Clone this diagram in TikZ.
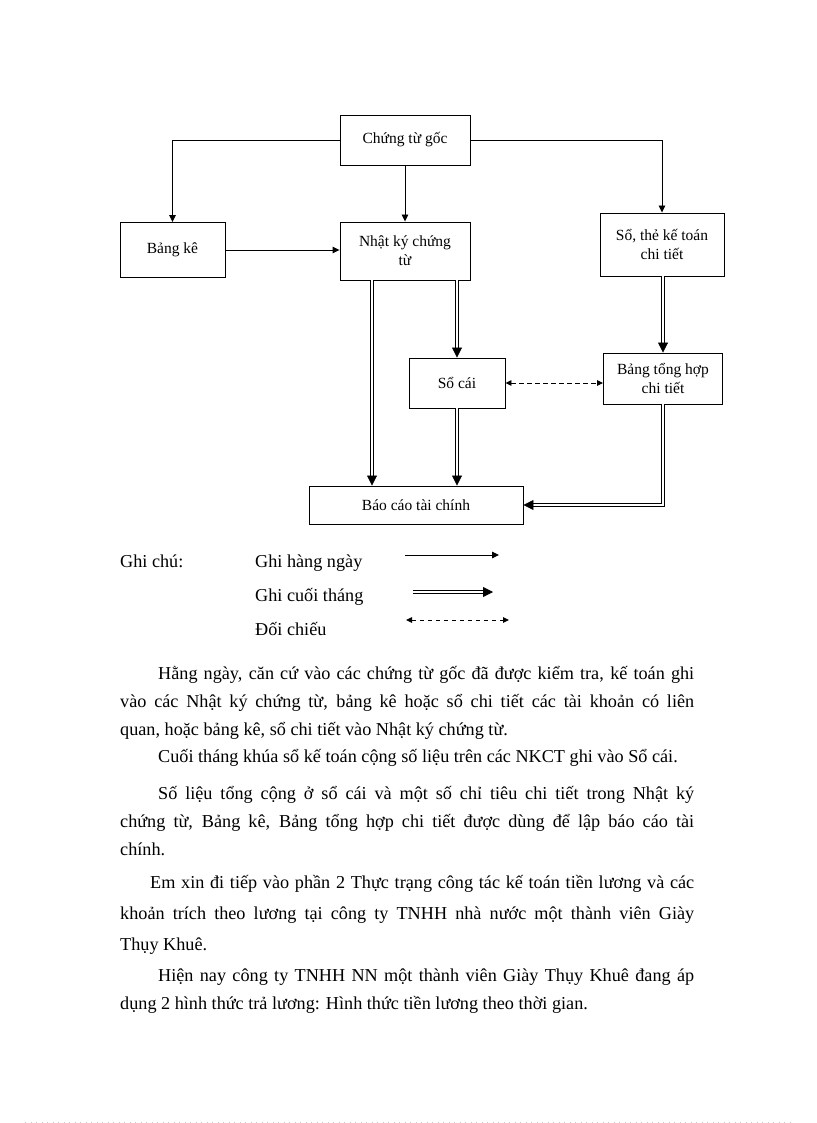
\documentclass[tikz,border=0pt]{standalone}
\usepackage{fontspec}
\setmainfont{Liberation Serif}
\usepackage{tikz}
\usetikzlibrary{arrows.meta,calc}

\begin{document}
\begin{tikzpicture}[x=1pt,y=-1pt,
  box/.style={draw,line width=0.9pt,inner sep=2pt,align=center,font=\fontsize{15.5}{19}\selectfont},
  daily/.style={line width=0.9pt,-{Triangle[length=7pt,width=6.5pt]}},
  monthly/.style={draw,line width=0.8pt,double,double distance=2.2pt,-{Triangle[length=10pt,width=10pt]}},
  compare/.style={line width=0.9pt,dash pattern=on 4.5pt off 3.5pt,{Triangle[length=6pt,width=5.5pt]}-{Triangle[length=6pt,width=5.5pt]}},
  para/.style={anchor=base west,inner sep=0pt,text width=574pt,align=justify,font=\fontsize{18.2}{28}\selectfont},
  legend/.style={anchor=base west,inner sep=0pt,font=\fontsize{18.2}{22}\selectfont}]
\useasboundingbox (0,0) rectangle (816,1123);
\node[box,minimum width=130pt,minimum height=50pt] (goc) at (405,140) {Chứng từ gốc};
\node[box,minimum width=105pt,minimum height=55pt] (bangke) at (172.5,250) {Bảng kê};
\node[box,minimum width=130pt,minimum height=58pt] (nkct) at (405,251) {Nhật ký chứng\\từ};
\node[box,minimum width=124pt,minimum height=63pt] (sothe) at (662,244.5) {Sổ, thẻ kế toán\\chi tiết};
\node[box,minimum width=96pt,minimum height=50pt] (socai) at (457,383) {Sổ cái};
\node[box,minimum width=119pt,minimum height=51pt] (bth) at (663,378.5) {Bảng tổng hợp\\chi tiết};
\node[box,minimum width=214pt,minimum height=38pt] (bctc) at (416,505) {Báo cáo tài chính};
\coordinate (nk1) at (372,280);

\draw[daily] (goc.west) -| (bangke.north);
\draw[daily] (goc.south) -- (nkct.north);
\draw[daily] (goc.east) -| (sothe.north);
\draw[daily] (bangke.east) -- (bangke.east -| nkct.west);
\draw[monthly] (nk1) -- (nk1 |- bctc.north);
\draw[monthly] (nkct.south -| socai.north) -- (socai.north);
\draw[monthly] (socai.south) -- (socai.south |- bctc.north);
\draw[monthly] (sothe.south -| bth.north) -- (bth.north);
\draw[monthly] (bth.south) |- (bctc.east);
\draw[compare] (socai.east) -- (socai.east -| bth.west);

\node[legend] (note) at (120,567) {Ghi chú:};
\node[legend] (lgdaily) at (255,567) {Ghi hàng ngày};
\node[legend] (lgmonthly) at (255,601) {Ghi cuối tháng};
\node[legend] (lgcompare) at (255,635) {Đối chiếu};
\coordinate (d1) at (405,555);
\coordinate (d2) at (499,555);
\coordinate (m1) at (413,592);
\coordinate (m2) at (493,592);
\coordinate (c1) at (406,620);
\coordinate (c2) at (509,620);
\draw[daily] (d1) -- (d2);
\draw[monthly] (m1) -- (m2);
\draw[compare] (c1) -- (c2);

\node[para] (p1) at (120,679) {\hspace*{38pt}Hằng ngày, căn cứ vào các chứng từ gốc đã được kiểm tra, kế toán ghi \linebreak vào các Nhật ký chứng từ, bảng kê hoặc sổ chi tiết các tài khoản có liên \linebreak quan, hoặc bảng kê, sổ chi tiết vào Nhật ký chứng từ.};
\node[para] (p2) at (120,762) {\hspace*{38pt}Cuối tháng khúa sổ kế toán cộng số liệu trên các NKCT ghi vào Sổ cái.};
\node[para] (p3) at (120,799) {\hspace*{38pt}Số liệu tổng cộng ở sổ cái và một số chỉ tiêu chi tiết trong Nhật ký \linebreak chứng từ, Bảng kê, Bảng tổng hợp chi tiết được dùng để lập báo cáo tài \linebreak chính.};
\node[para,font=\fontsize{18.2}{31}\selectfont] (p4) at (120,888) {\hspace*{30pt}Em xin đi tiếp vào phần 2 Thực trạng công tác kế toán tiền lương và các \linebreak khoản trích theo lương tại công ty TNHH nhà nước một thành viên Giày \linebreak Thụy Khuê.};
\node[para] (p5) at (120,981) {\hspace*{38pt}Hiện nay công ty TNHH NN một thành viên Giày Thụy Khuê đang áp \linebreak dụng 2 hình thức trả lương: Hình thức tiền lương theo thời gian.};

\draw[gray!45,line width=0.8pt,dash pattern=on 1pt off 4.5pt] (25,1122) -- (790,1122);
\end{tikzpicture}
\end{document}
